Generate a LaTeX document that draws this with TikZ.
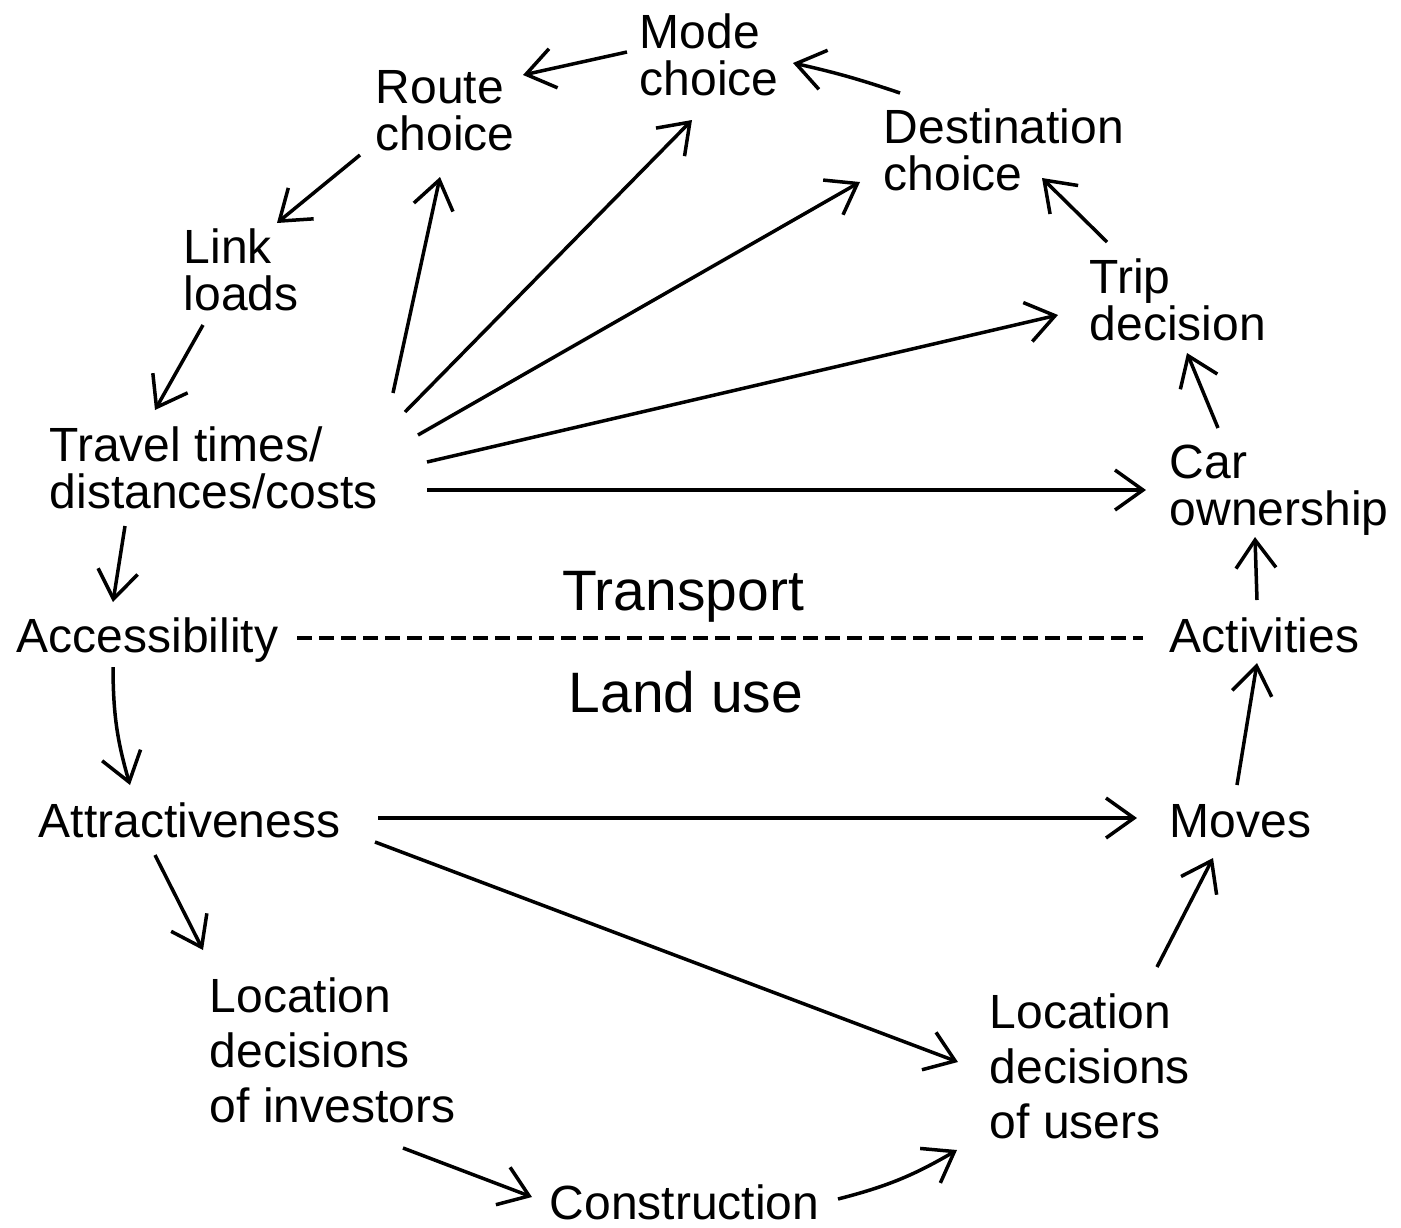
\documentclass[tikz,border=0pt]{standalone}
\usepackage{fontspec}
\setmainfont{Liberation Sans}
\usetikzlibrary{arrows.meta, positioning}
\tikzstyle{diagram}=[x=1pt, y=-1pt, line width=3.5pt, >={Straight Barb[length=28pt,width=40pt]}]
\tikzstyle{box}=[inner sep=0pt, anchor=base west, align=left, font={\fontsize{48}{47}\selectfont}]
\tikzstyle{tallbox}=[box, font={\fontsize{48}{55}\selectfont}]
\tikzstyle{side}=[inner sep=0pt, anchor=base, font={\fontsize{57}{60}\selectfont}]

\begin{document}
\begin{tikzpicture}[diagram]
  \useasboundingbox (0,0) rectangle (1401,1227);
  \node[box] (mode)   at (638,95)   {Mode\\choice};
  \node[box] (route)  at (374,150)  {Route\\choice};
  \node[box] (dest)   at (882,190)  {Destination\\choice};
  \node[box] (link)   at (182,310)  {Link\\loads};
  \node[box] (trip)   at (1088,340) {Trip\\decision};
  \node[box] (travel) at (48,508)   {Travel times/\\distances/costs};
  \node[box] (car)    at (1168,525) {Car\\ownership};
  \node[box] (access) at (15,652)   {Accessibility};
  \node[box] (activ)  at (1168,652) {Activities};
  \node[box] (attr)   at (37,837)   {Attractiveness};
  \node[box] (moves)  at (1168,837) {Moves};
  \node[tallbox] (locinv) at (208,1122) {Location\\decisions\\of investors};
  \node[tallbox] (locuse) at (988,1138) {Location\\decisions\\of users};
  \node[box] (constr) at (548,1219) {Construction};
  \node[side] (transport) at (683,610) {Transport};
  \node[side] (landuse)   at (686,712) {Land use};
  % transport side
  \path[->] ([shift={(-11,-43)}]mode.base west)   edge ([shift={(149,-75)}]route.base west);
  \path[->] ([shift={(18,-97)}]dest.base west)    edge[bend right=3] ([shift={(155,-32)}]mode.base west);
  \path[->] ([shift={(-14,5)}]route.base west)    edge ([shift={(95,-87)}]link.base west);
  \path[->] ([shift={(21,15)}]link.base west)     edge ([shift={(107,-98)}]travel.base west);
  \path[->] ([shift={(345,-115)}]travel.base west) edge ([shift={(66,27)}]route.base west);
  \path[->] ([shift={(357,-96)}]travel.base west) edge ([shift={(54,25)}]mode.base west);
  \path[->] ([shift={(370,-73)}]travel.base west) edge ([shift={(-22,-8)}]dest.base west);
  \path[->] ([shift={(379,-46)}]travel.base west) edge ([shift={(-30,-25)}]trip.base west);
  \path[->] ([shift={(379,-18)}]travel.base west) edge ([shift={(-22,-35)}]car.base west);
  \path[->] ([shift={(19,-98)}]trip.base west)    edge ([shift={(160,-12)}]dest.base west);
  \path[->] ([shift={(50,-97)}]car.base west)     edge ([shift={(99,13)}]trip.base west);
  \path[->] ([shift={(89,-52)}]activ.base west)   edge ([shift={(87,12)}]car.base west);
  \path[->] ([shift={(77,18)}]travel.base west)   edge ([shift={(98,-50)}]access.base west);
  % boundary
  \draw[line width=4pt, dash pattern=on 15pt off 7pt] ([shift={(282,-14)}]access.base west) -- ([shift={(-25,-14)}]activ.base west);
  % land use side
  \path[->] ([shift={(98,15)}]access.base west)   edge[bend right=8] ([shift={(93,-52)}]attr.base west);
  \path[->] ([shift={(341,-19)}]attr.base west)   edge ([shift={(-31,-19)}]moves.base west);
  \path[->] ([shift={(338,5)}]attr.base west)     edge ([shift={(-30,-76)}]locuse.base west);
  \path[->] ([shift={(118,18)}]attr.base west)    edge ([shift={(-5,-172)}]locinv.base west);
  \path[->] ([shift={(195,26)}]locinv.base west)  edge ([shift={(-16,-22)}]constr.base west);
  \path[->] ([shift={(290,-20)}]constr.base west) edge[bend right=8] ([shift={(-31,12)}]locuse.base west);
  \path[->] ([shift={(169,-171)}]locuse.base west) edge ([shift={(45,21)}]moves.base west);
  \path[->] ([shift={(69,-52)}]moves.base west)   edge ([shift={(89,11)}]activ.base west);
\end{tikzpicture}
\end{document}
